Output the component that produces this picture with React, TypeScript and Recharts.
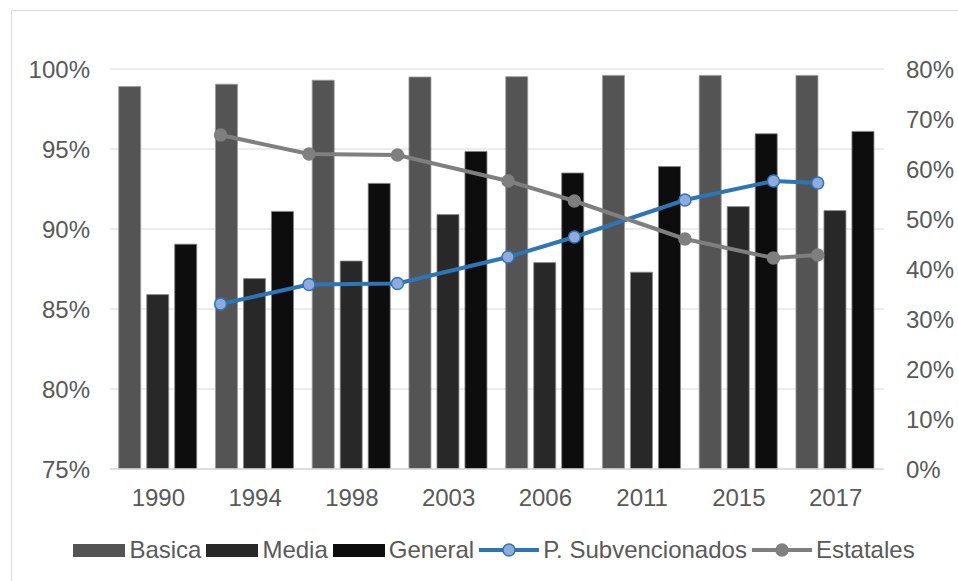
import React from "react";
import {
  ComposedChart,
  Bar,
  Line,
  XAxis,
  YAxis,
  CartesianGrid,
} from "recharts";

// Categories and series
const yearLabels = ["1990", "1994", "1998", "2003", "2006", "2011", "2015", "2017"];
const yearNums = [1990, 1994, 1998, 2003, 2006, 2011, 2015, 2017];
const basica = [98.9, 99.05, 99.3, 99.5, 99.52, 99.6, 99.6, 99.6];
const media = [85.9, 86.9, 88.0, 90.9, 87.9, 87.3, 91.4, 91.15];
const general = [89.05, 91.1, 92.85, 94.85, 93.5, 93.9, 95.95, 96.1];
const subvencionados = [33.0, 36.9, 37.1, 42.4, 46.4, 53.8, 57.6, 57.2];
const estatales = [66.8, 63.0, 62.8, 57.6, 53.6, 46.0, 42.2, 42.8];

// Axis ticks
const leftTicks = [75, 80, 85, 90, 95, 100];
const rightTicks = [0, 10, 20, 30, 40, 50, 60, 70, 80];

const data = yearLabels.map((label, i) => ({
  label,
  year: yearNums[i],
  basica: basica[i],
  media: media[i],
  general: general[i],
  subvencionados: subvencionados[i],
  estatales: estatales[i],
}));

const FONT = "'Liberation Sans', Arial, sans-serif";
const TEXT = "#595959";
const GRID = "#d9d9d9";
const C_BASICA = "#545454";
const C_MEDIA = "#282828";
const C_GENERAL = "#0d0d0d";
const C_BLUE = "#2e75b6";
const C_BLUE_FILL = "#8faadc";
const C_GRAY = "#7f7f7f";
const FS = 24;

const tickStyle = { fill: TEXT, fontSize: FS, fontFamily: FONT };

function BoxSwatch({ color }: { color: string }) {
  return <div style={{ width: 52, height: 13, background: color }} />;
}

function LineSwatch({ color, fill }: { color: string; fill: string }) {
  return (
    <svg width={60} height={16} style={{ display: "block" }}>
      <line x1={0} y1={8} x2={60} y2={8} stroke={color} strokeWidth={4} />
      <circle cx={30} cy={8} r={6} fill={fill} stroke={color} strokeWidth={1.5} />
    </svg>
  );
}

function LegendRow() {
  const items = [
    { name: "Basica", sw: <BoxSwatch color={C_BASICA} /> },
    { name: "Media", sw: <BoxSwatch color={C_MEDIA} /> },
    { name: "General", sw: <BoxSwatch color={C_GENERAL} /> },
    { name: "P. Subvencionados", sw: <LineSwatch color={C_BLUE} fill={C_BLUE_FILL} /> },
    { name: "Estatales", sw: <LineSwatch color={C_GRAY} fill={C_GRAY} /> },
  ];
  return (
    <div
      style={{
        position: "absolute",
        left: 0,
        top: 531,
        width: 988,
        height: 38,
        display: "flex",
        justifyContent: "center",
        alignItems: "center",
        fontFamily: FONT,
        fontSize: FS,
        color: TEXT,
      }}
    >
      {items.map((it, i) => (
        <div
          key={it.name}
          style={{ display: "flex", alignItems: "center", marginRight: i < items.length - 1 ? 5 : 0 }}
        >
          {it.sw}
          <span style={{ marginLeft: 4, whiteSpace: "nowrap" }}>{it.name}</span>
        </div>
      ))}
    </div>
  );
}

export default function App() {
  return (
    <div style={{ position: "fixed", left: 0, top: 0, width: 958, height: 581, background: "#fff", overflow: "hidden" }}>
      <div
        style={{
          position: "absolute",
          left: 11,
          top: 10,
          width: 947,
          height: 571,
          borderLeft: `1px solid ${GRID}`,
          borderTop: `1px solid ${GRID}`,
          boxSizing: "border-box",
        }}
      />
      <div style={{ position: "absolute", left: 11, top: 10 }}>
        <ComposedChart
          width={947}
          height={571}
          data={data}
          margin={{ top: 59, right: 0, bottom: 72, left: 0 }}
          barCategoryGap="9%"
          barGap={6}
        >
          <CartesianGrid vertical={false} stroke={GRID} strokeWidth={1.2} yAxisId="left" xAxisId="cat" />
          <XAxis
            xAxisId="cat"
            dataKey="label"
            type="category"
            height={40}
            tickLine={false}
            tickSize={0}
            tickMargin={20}
            axisLine={{ stroke: GRID, strokeWidth: 1.5 }}
            tick={tickStyle}
            interval={0}
          />
          <XAxis xAxisId="yr" dataKey="year" type="number" domain={[1985, 2020]} hide />
          <YAxis
            yAxisId="left"
            domain={[75, 100]}
            ticks={leftTicks}
            width={99}
            tickLine={false}
            axisLine={false}
            tickSize={0}
            tickMargin={20}
            tick={tickStyle}
            tickFormatter={(v: number) => `${v}%`}
            allowDataOverflow
          />
          <YAxis
            yAxisId="right"
            orientation="right"
            domain={[0, 80]}
            ticks={rightTicks}
            width={74}
            tickLine={false}
            axisLine={false}
            tickSize={0}
            tickMargin={22}
            tick={{ ...tickStyle, textAnchor: "start" }}
            tickFormatter={(v: number) => `${v}%`}
          />
          <Bar xAxisId="cat" yAxisId="left" dataKey="basica" name="Basica" fill={C_BASICA} stroke="#9a9a9a" strokeWidth={0.8} isAnimationActive={false} />
          <Bar xAxisId="cat" yAxisId="left" dataKey="media" name="Media" fill={C_MEDIA} stroke="#8a8a8a" strokeWidth={0.8} isAnimationActive={false} />
          <Bar xAxisId="cat" yAxisId="left" dataKey="general" name="General" fill={C_GENERAL} stroke="#808080" strokeWidth={0.8} isAnimationActive={false} />
          <Line
            xAxisId="yr"
            yAxisId="right"
            dataKey="subvencionados"
            name="P. Subvencionados"
            stroke={C_BLUE}
            strokeWidth={4}
            dot={{ r: 6, fill: C_BLUE_FILL, stroke: C_BLUE, strokeWidth: 1.5 }}
            isAnimationActive={false}
          />
          <Line
            xAxisId="yr"
            yAxisId="right"
            dataKey="estatales"
            name="Estatales"
            stroke={C_GRAY}
            strokeWidth={4}
            dot={{ r: 6, fill: C_GRAY, stroke: C_GRAY, strokeWidth: 1.5 }}
            isAnimationActive={false}
          />
        </ComposedChart>
      </div>
      <LegendRow />
    </div>
  );
}
